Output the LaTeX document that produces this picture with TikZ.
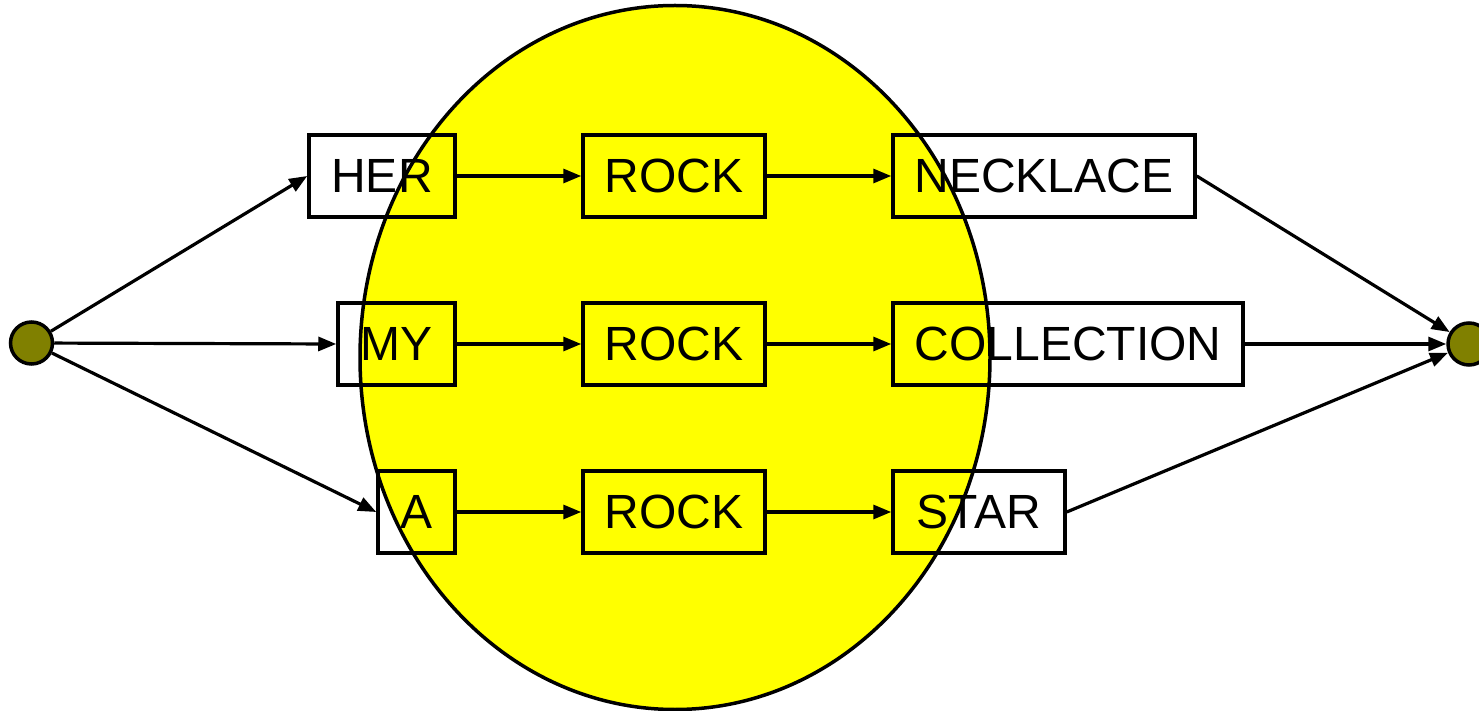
\documentclass[tikz,border=0pt]{standalone}
\usepackage{fontspec}
\setmainfont{Liberation Sans}
\usetikzlibrary{arrows.meta}
\definecolor{lemon}{RGB}{255,255,0}
\definecolor{dotolive}{RGB}{128,128,0}
\begin{document}
\begin{tikzpicture}[x=0.5pt, y=-0.5pt, line width=1.75pt,
  word/.style={draw, line width=1.75pt, minimum height=41pt, inner sep=0pt, font=\fontsize{24}{28}\selectfont},
  dot/.style={circle, draw, line width=1.75pt, fill=dotolive, minimum size=21pt, inner sep=0pt},
  link/.style={-{Triangle[length=9pt,width=7pt]}, line width=1.6pt}]
  \useasboundingbox (0,0) rectangle (1479,711);
  % the yellow ellipse lies behind the words
  \draw[fill=lemon] (675,357.5) ellipse [x radius=157.5pt, y radius=176pt];
  \node[dot] (start) at (31.5,343) {};
  \node[dot] (end) at (1469,344) {};
  \node[word, minimum width=73pt] (her) at (382,176) {HER};
  \node[word, minimum width=91pt] (rock1) at (674,176) {ROCK};
  \node[word, minimum width=151pt] (necklace) at (1044,176) {NECKLACE};
  \node[word, minimum width=58.5pt] (my) at (396.5,344) {MY};
  \node[word, minimum width=91pt] (rock2) at (674,344) {ROCK};
  \node[word, minimum width=175pt] (collection) at (1068,344) {COLLECTION};
  \node[word, minimum width=38.5pt] (a) at (416.5,512) {A};
  \node[word, minimum width=91pt] (rock3) at (674,512) {ROCK};
  \node[word, minimum width=86pt] (star) at (979,512) {STAR};
  \draw[link] (start) -- (her.west);
  \draw[link] (start) -- (my.west);
  \draw[link] (start) -- (a.west);
  \draw[link] (her) -- (rock1);
  \draw[link] (rock1) -- (necklace);
  \draw[link] (my) -- (rock2);
  \draw[link] (rock2) -- (collection);
  \draw[link] (a) -- (rock3);
  \draw[link] (rock3) -- (star);
  \draw[link] (necklace.east) -- (end);
  \draw[link] (collection.east) -- (end);
  \draw[link] (star.east) -- (end);
\end{tikzpicture}
\end{document}
